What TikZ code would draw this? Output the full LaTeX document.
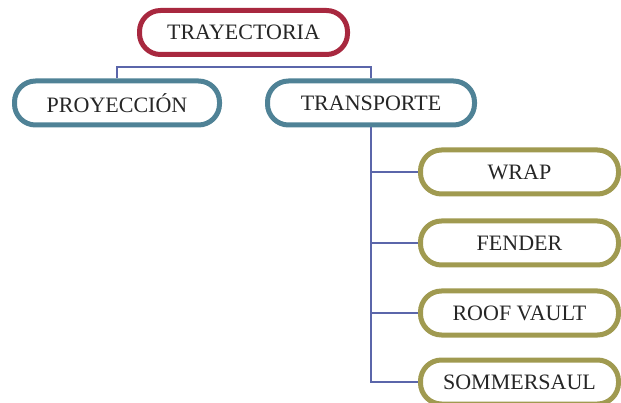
\documentclass[tikz,border=0pt]{standalone}
\usepackage{fontspec}
\setmainfont{Liberation Serif}
\usetikzlibrary{positioning}
\definecolor{rootred}{HTML}{A8283F}
\definecolor{tealblue}{HTML}{4F8296}
\definecolor{leafolive}{HTML}{A09A50}
\definecolor{linkblue}{HTML}{5B66AA}
\begin{document}
\begin{tikzpicture}[x=1pt,y=-1pt,
 box/.style={draw,line width=5pt,rounded corners=21pt,minimum height=44pt,inner sep=0pt,
  text=black!85,font=\fontsize{22}{22}\selectfont},
 link/.style={draw=linkblue,line width=1.2pt}]
 \useasboundingbox (0,0) rectangle (621,403);
 \node[box,draw=rootred,minimum width=208pt] (tray) at (243.5,32.5) {TRAYECTORIA};
 \node[box,draw=tealblue,minimum width=205pt] (proy) at (117,103) {PROYECCIÓN};
 \node[box,draw=tealblue,minimum width=207pt] (trans) at (371,103) {TRANSPORTE};
 \foreach \nd/\txt/\y in {wrap/WRAP/172,fender/FENDER/243,roof/ROOF VAULT/313,somm/SOMMERSAUL/382}
  \node[box,draw=leafolive,minimum width=198pt] (\nd) at (519.5,\y) {\txt};
 \coordinate (bar) at (0,67);
 \draw[link] (proy.north) |- (bar -| trans) -- (trans.north);
 \foreach \nd in {wrap,fender,roof,somm}
  \draw[link] (trans.south) |- (\nd.west);
\end{tikzpicture}
\end{document}
